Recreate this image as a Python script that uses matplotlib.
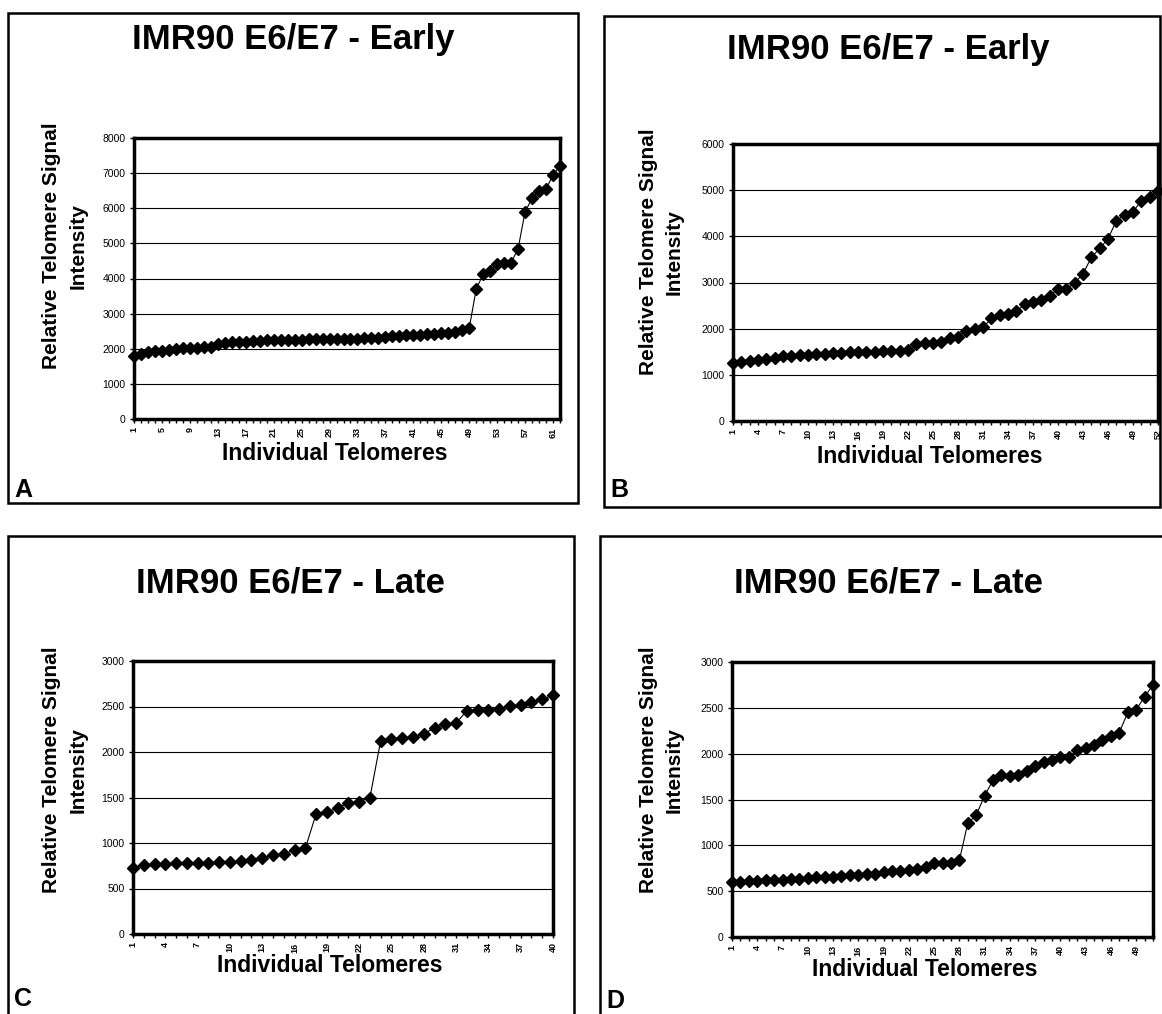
import matplotlib.pyplot as plt
from matplotlib.patches import Rectangle

plt.rcParams['font.family'] = ['Liberation Sans', 'DejaVu Sans']

W, H = 1162, 1014

# relative telomere signal intensity, sorted, one value per telomere
early_a = [1800, 1850, 1910, 1930, 1950, 1960, 1990, 2010, 2020, 2030,
           2050, 2060, 2140, 2150, 2180, 2190, 2200, 2220, 2230, 2240,
           2250, 2250, 2255, 2260, 2260, 2265, 2270, 2275, 2280, 2280,
           2285, 2290, 2290, 2295, 2300, 2310, 2330, 2360, 2370, 2380,
           2385, 2400, 2420, 2430, 2440, 2445, 2470, 2540, 2580, 3700,
           4120, 4220, 4420, 4450, 4450, 4850, 5900, 6280, 6480, 6540,
           6950, 7200]
early_b = [1250, 1270, 1290, 1320, 1350, 1360, 1400, 1410, 1420, 1440,
           1445, 1460, 1465, 1480, 1490, 1495, 1500, 1505, 1510, 1510,
           1515, 1530, 1670, 1690, 1690, 1717, 1807, 1828, 1945, 1993,
           2028, 2221, 2303, 2324, 2372, 2531, 2579, 2621, 2717, 2855,
           2862, 2993, 3186, 3545, 3738, 3945, 4338, 4462, 4531, 4772,
           4855, 4979]
late_c = [727, 761, 765, 772, 782, 782, 783, 785, 789, 790,
          802, 813, 840, 864, 881, 922, 940, 1320, 1337, 1385,
          1440, 1454, 1499, 2126, 2147, 2150, 2167, 2201, 2263, 2311,
          2315, 2455, 2466, 2466, 2476, 2510, 2517, 2545, 2579, 2623]
late_d = [605, 605, 607, 612, 620, 620, 620, 628, 628, 640,
          650, 652, 655, 665, 672, 680, 683, 690, 710, 720,
          725, 728, 745, 765, 805, 808, 810, 835, 1240, 1330,
          1540, 1710, 1770, 1760, 1770, 1810, 1870, 1910, 1930, 1960,
          1960, 2040, 2060, 2090, 2150, 2190, 2230, 2450, 2480, 2620,
          2750]

titles = ['IMR90 E6/E7 - Early', 'IMR90 E6/E7 - Early',
          'IMR90 E6/E7 - Late', 'IMR90 E6/E7 - Late']
letters = ['A', 'B', 'C', 'D']
y_max = [8000, 6000, 3000, 3000]
y_step = [1000, 1000, 500, 500]
x_step = [4, 3, 3, 3]
series = [early_a, early_b, late_c, late_d]

# pixel layout: panel box, plot area, title centre, ylabel x, letter pos
boxes = [(8, 13, 578, 503), (604, 16, 1160, 507),
         (8, 536, 574, 1020), (600, 536, 1170, 1020)]
plots = [(134, 138, 560, 419), (733, 144, 1158, 421),
         (133, 661, 553, 934), (732, 662, 1153, 937)]
title_pos = [(293, 40), (888, 50), (290, 583), (888, 583)]
ylab_x = [[52, 78], [648, 674], [52, 78], [648, 674]]
ylab_y = [246, 252, 770, 770]
xlab_pos = [(335, 453), (930, 456), (330, 965), (925, 969)]
letter_pos = [(14, 497), (610, 497), (14, 1006), (606, 1008)]


def fig_rect(x0, y0, x1, y1):
    return [x0 / W, 1 - y1 / H, (x1 - x0) / W, (y1 - y0) / H]


fig = plt.figure(figsize=(W / 100, H / 100), dpi=100)

for i in range(4):
    bx0, by0, bx1, by1 = boxes[i]
    fig.patches.append(Rectangle((bx0 / W, 1 - by1 / H), (bx1 - bx0) / W,
                                 (by1 - by0) / H, transform=fig.transFigure,
                                 fill=False, edgecolor='black', lw=1.8))

    vals = series[i]
    n = len(vals)
    xs = list(range(1, n + 1))
    ax = fig.add_axes(fig_rect(*plots[i]))
    ax.plot(xs, vals, color='black', lw=0.8, marker='D', markersize=6.5,
            markerfacecolor='black', markeredgecolor='black', clip_on=False,
            zorder=3)
    ax.set_xlim(1, n)
    ax.set_ylim(0, y_max[i])
    ax.set_yticks(range(0, y_max[i] + 1, y_step[i]))
    ax.yaxis.grid(True, color='black', lw=0.8)
    ax.set_axisbelow(True)
    ax.set_xticks(xs, minor=True)
    ax.set_xticks(xs[::x_step[i]])
    ax.set_xticklabels([str(x) for x in xs[::x_step[i]]], rotation=90,
                       fontsize=6.5, fontweight='bold')
    ax.tick_params(axis='x', which='both', length=3, width=1, pad=3)
    ax.tick_params(axis='y', length=3, width=1, labelsize=7.5, pad=3)
    for sp in ax.spines.values():
        sp.set_linewidth(2.5)

    tx, ty = title_pos[i]
    fig.text(tx / W, 1 - ty / H, titles[i], ha='center', va='center',
             fontsize=25, fontweight='bold')
    fig.text(ylab_x[i][0] / W, 1 - ylab_y[i] / H, 'Relative Telomere Signal',
             rotation=90, ha='center', va='center', fontsize=15,
             fontweight='bold')
    fig.text(ylab_x[i][1] / W, 1 - ylab_y[i] / H, 'Intensity',
             rotation=90, ha='center', va='center', fontsize=15,
             fontweight='bold')
    lx, ly = xlab_pos[i]
    fig.text(lx / W, 1 - ly / H, 'Individual Telomeres', ha='center',
             va='center', fontsize=16.5, fontweight='bold')
    px_, py_ = letter_pos[i]
    fig.text(px_ / W, 1 - py_ / H, letters[i], ha='left', va='baseline',
             fontsize=18, fontweight='bold')

fig.savefig('out.png', dpi=100)
